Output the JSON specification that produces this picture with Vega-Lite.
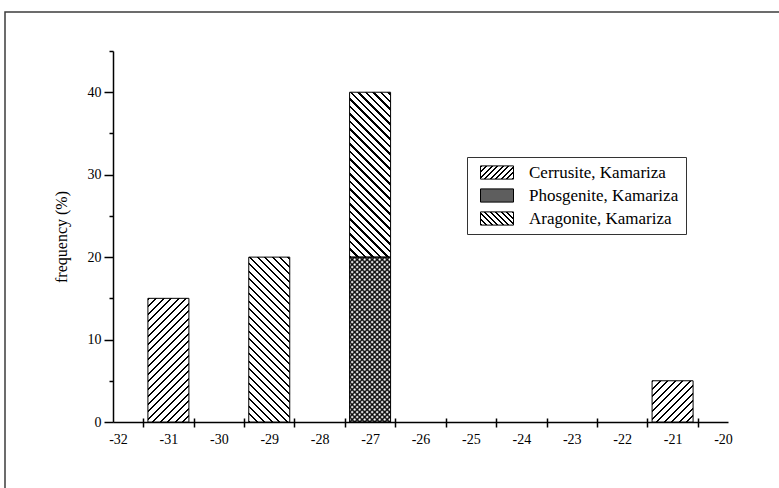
{
"$schema": "https://vega.github.io/schema/vega-lite/v6.json",
"autosize": "none",
"width": 778,
"height": 480,
"padding": {"left": 5, "top": 12, "right": -4, "bottom": -4},
"background": "#ffffff",
"config": {"font": "Liberation Serif", "view": {"stroke": "#3c3c3c", "strokeWidth": 1.5}, "axis": {"grid": false}},
"data": {"values": [
{"bin": -31, "mineral": "Cerrusite, Kamariza", "freq": 15},
{"bin": -29, "mineral": "Aragonite, Kamariza", "freq": 20},
{"bin": -27, "mineral": "Phosgenite, Kamariza", "freq": 20},
{"bin": -27, "mineral": "Aragonite, Kamariza", "freq": 20},
{"bin": -21, "mineral": "Cerrusite, Kamariza", "freq": 5}
]},
"transform": [{"stack": "freq", "groupby": ["bin"], "sort": [{"field": "mineral", "order": "descending"}], "as": ["f0", "f1"]}],
"resolve": {"axis": {"x": "independent", "y": "independent"}},
"layer": [
{
"transform": [{"filter": "datum.bin === -31"}],
"mark": {"type": "bar", "size": 41, "stroke": "#000", "strokeWidth": 1, "fill": {"gradient": "linear", "x1": 0, "y1": 0, "x2": 0.72459, "y2": 2.18556, "stops": [
{"offset":0,"color":"#000"},{"offset":0.007,"color":"#000"},{"offset":0.007,"color":"#fff"},{"offset":0.025,"color":"#fff"},
{"offset":0.025,"color":"#000"},{"offset":0.032,"color":"#000"},{"offset":0.032,"color":"#fff"},{"offset":0.05,"color":"#fff"},
{"offset":0.05,"color":"#000"},{"offset":0.057,"color":"#000"},{"offset":0.057,"color":"#fff"},{"offset":0.075,"color":"#fff"},
{"offset":0.075,"color":"#000"},{"offset":0.082,"color":"#000"},{"offset":0.082,"color":"#fff"},{"offset":0.1,"color":"#fff"},
{"offset":0.1,"color":"#000"},{"offset":0.107,"color":"#000"},{"offset":0.107,"color":"#fff"},{"offset":0.125,"color":"#fff"},
{"offset":0.125,"color":"#000"},{"offset":0.132,"color":"#000"},{"offset":0.132,"color":"#fff"},{"offset":0.15,"color":"#fff"},
{"offset":0.15,"color":"#000"},{"offset":0.157,"color":"#000"},{"offset":0.157,"color":"#fff"},{"offset":0.175,"color":"#fff"},
{"offset":0.175,"color":"#000"},{"offset":0.182,"color":"#000"},{"offset":0.182,"color":"#fff"},{"offset":0.2,"color":"#fff"},
{"offset":0.2,"color":"#000"},{"offset":0.207,"color":"#000"},{"offset":0.207,"color":"#fff"},{"offset":0.225,"color":"#fff"},
{"offset":0.225,"color":"#000"},{"offset":0.232,"color":"#000"},{"offset":0.232,"color":"#fff"},{"offset":0.25,"color":"#fff"},
{"offset":0.25,"color":"#000"},{"offset":0.257,"color":"#000"},{"offset":0.257,"color":"#fff"},{"offset":0.275,"color":"#fff"},
{"offset":0.275,"color":"#000"},{"offset":0.282,"color":"#000"},{"offset":0.282,"color":"#fff"},{"offset":0.3,"color":"#fff"},
{"offset":0.3,"color":"#000"},{"offset":0.307,"color":"#000"},{"offset":0.307,"color":"#fff"},{"offset":0.325,"color":"#fff"},
{"offset":0.325,"color":"#000"},{"offset":0.332,"color":"#000"},{"offset":0.332,"color":"#fff"},{"offset":0.35,"color":"#fff"},
{"offset":0.35,"color":"#000"},{"offset":0.357,"color":"#000"},{"offset":0.357,"color":"#fff"},{"offset":0.375,"color":"#fff"},
{"offset":0.375,"color":"#000"},{"offset":0.382,"color":"#000"},{"offset":0.382,"color":"#fff"},{"offset":0.4,"color":"#fff"},
{"offset":0.4,"color":"#000"},{"offset":0.407,"color":"#000"},{"offset":0.407,"color":"#fff"},{"offset":0.425,"color":"#fff"},
{"offset":0.425,"color":"#000"},{"offset":0.432,"color":"#000"},{"offset":0.432,"color":"#fff"},{"offset":0.45,"color":"#fff"},
{"offset":0.45,"color":"#000"},{"offset":0.457,"color":"#000"},{"offset":0.457,"color":"#fff"},{"offset":0.475,"color":"#fff"},
{"offset":0.475,"color":"#000"},{"offset":0.482,"color":"#000"},{"offset":0.482,"color":"#fff"},{"offset":0.5,"color":"#fff"},
{"offset":0.5,"color":"#000"},{"offset":0.507,"color":"#000"},{"offset":0.507,"color":"#fff"},{"offset":0.525,"color":"#fff"},
{"offset":0.525,"color":"#000"},{"offset":0.532,"color":"#000"},{"offset":0.532,"color":"#fff"},{"offset":0.55,"color":"#fff"}
]}},
"encoding": {
"x": {"field": "bin", "type": "quantitative", "scale": {"domain": [-32, -20], "range": [108, 723], "nice": false, "zero": false},
"axis": {"orient": "bottom", "offset": -70, "values": [-32,-31,-30,-29,-28,-27,-26,-25,-24,-23,-22,-21,-20], "labelExpr": "'' + datum.value", "ticks": false, "tickSize": 0, "labelPadding": 10, "domain": true, "domainColor": "#000", "domainWidth": 1.5, "labelFontSize": 14, "labelColor": "#000", "title": null, "grid": false}},
"y": {"field": "f1", "type": "quantitative", "scale": {"domain": [0, 45], "range": [410, 39], "nice": false, "zero": false},
"axis": {"orient": "left", "offset": -108, "values": [0,10,20,30,40], "tickSize": 9, "tickWidth": 1.5, "tickColor": "#000", "domain": true, "domainColor": "#000", "domainWidth": 1.5, "labelPadding": 3, "labelFontSize": 14, "labelColor": "#000", "title": "frequency (%)", "titleFontSize": 16, "titleFontWeight": "normal", "titleColor": "#000", "titlePadding": 18, "grid": false}},
"y2": {"field": "f0"}
}
},
{
"transform": [{"filter": "datum.bin === -21"}],
"mark": {"type": "bar", "size": 41, "stroke": "#000", "strokeWidth": 1, "fill": {"gradient": "linear", "x1": 0, "y1": 0, "x2": 3.639, "y2": 3.6585, "stops": [
{"offset":0,"color":"#000"},{"offset":0.007,"color":"#000"},{"offset":0.007,"color":"#fff"},{"offset":0.025,"color":"#fff"},
{"offset":0.025,"color":"#000"},{"offset":0.032,"color":"#000"},{"offset":0.032,"color":"#fff"},{"offset":0.05,"color":"#fff"},
{"offset":0.05,"color":"#000"},{"offset":0.057,"color":"#000"},{"offset":0.057,"color":"#fff"},{"offset":0.075,"color":"#fff"},
{"offset":0.075,"color":"#000"},{"offset":0.082,"color":"#000"},{"offset":0.082,"color":"#fff"},{"offset":0.1,"color":"#fff"},
{"offset":0.1,"color":"#000"},{"offset":0.107,"color":"#000"},{"offset":0.107,"color":"#fff"},{"offset":0.125,"color":"#fff"},
{"offset":0.125,"color":"#000"},{"offset":0.132,"color":"#000"},{"offset":0.132,"color":"#fff"},{"offset":0.15,"color":"#fff"},
{"offset":0.15,"color":"#000"},{"offset":0.157,"color":"#000"},{"offset":0.157,"color":"#fff"},{"offset":0.175,"color":"#fff"},
{"offset":0.175,"color":"#000"},{"offset":0.182,"color":"#000"},{"offset":0.182,"color":"#fff"},{"offset":0.2,"color":"#fff"},
{"offset":0.2,"color":"#000"},{"offset":0.207,"color":"#000"},{"offset":0.207,"color":"#fff"},{"offset":0.225,"color":"#fff"},
{"offset":0.225,"color":"#000"},{"offset":0.232,"color":"#000"},{"offset":0.232,"color":"#fff"},{"offset":0.25,"color":"#fff"},
{"offset":0.25,"color":"#000"},{"offset":0.257,"color":"#000"},{"offset":0.257,"color":"#fff"},{"offset":0.275,"color":"#fff"}
]}},
"encoding": {
"x": {"field": "bin", "type": "quantitative", "scale": {"domain": [-32, -20], "range": [108, 723], "nice": false, "zero": false},
"axis": {"orient": "bottom", "offset": -70, "values": [-31.5,-30.5,-29.5,-28.5,-27.5,-26.5,-25.5,-24.5,-23.5,-22.5,-21.5,-20.5], "labels": false, "domain": false, "ticks": true, "tickSize": 5, "tickWidth": 1.5, "tickColor": "#000", "title": null, "grid": false}},
"y": {"field": "f1", "type": "quantitative", "scale": {"domain": [0, 45], "range": [410, 39], "nice": false, "zero": false},
"axis": {"orient": "left", "offset": -108, "values": [5,15,25,35,45], "labels": false, "domain": false, "tickSize": 4, "tickWidth": 1.5, "tickColor": "#000", "title": null, "grid": false}},
"y2": {"field": "f0"}
}
},
{
"transform": [{"filter": "datum.mineral === 'Aragonite, Kamariza'"}],
"mark": {"type": "bar", "size": 41, "stroke": "#000", "strokeWidth": 1, "fill": {"gradient": "linear", "x1": 0, "y1": 1, "x2": 0.42606, "y2": -0.71346, "stops": [
{"offset":0,"color":"#000"},{"offset":0.007,"color":"#000"},{"offset":0.007,"color":"#fff"},{"offset":0.025,"color":"#fff"},
{"offset":0.025,"color":"#000"},{"offset":0.032,"color":"#000"},{"offset":0.032,"color":"#fff"},{"offset":0.05,"color":"#fff"},
{"offset":0.05,"color":"#000"},{"offset":0.057,"color":"#000"},{"offset":0.057,"color":"#fff"},{"offset":0.075,"color":"#fff"},
{"offset":0.075,"color":"#000"},{"offset":0.082,"color":"#000"},{"offset":0.082,"color":"#fff"},{"offset":0.1,"color":"#fff"},
{"offset":0.1,"color":"#000"},{"offset":0.107,"color":"#000"},{"offset":0.107,"color":"#fff"},{"offset":0.125,"color":"#fff"},
{"offset":0.125,"color":"#000"},{"offset":0.132,"color":"#000"},{"offset":0.132,"color":"#fff"},{"offset":0.15,"color":"#fff"},
{"offset":0.15,"color":"#000"},{"offset":0.157,"color":"#000"},{"offset":0.157,"color":"#fff"},{"offset":0.175,"color":"#fff"},
{"offset":0.175,"color":"#000"},{"offset":0.182,"color":"#000"},{"offset":0.182,"color":"#fff"},{"offset":0.2,"color":"#fff"},
{"offset":0.2,"color":"#000"},{"offset":0.207,"color":"#000"},{"offset":0.207,"color":"#fff"},{"offset":0.225,"color":"#fff"},
{"offset":0.225,"color":"#000"},{"offset":0.232,"color":"#000"},{"offset":0.232,"color":"#fff"},{"offset":0.25,"color":"#fff"},
{"offset":0.25,"color":"#000"},{"offset":0.257,"color":"#000"},{"offset":0.257,"color":"#fff"},{"offset":0.275,"color":"#fff"},
{"offset":0.275,"color":"#000"},{"offset":0.282,"color":"#000"},{"offset":0.282,"color":"#fff"},{"offset":0.3,"color":"#fff"},
{"offset":0.3,"color":"#000"},{"offset":0.307,"color":"#000"},{"offset":0.307,"color":"#fff"},{"offset":0.325,"color":"#fff"},
{"offset":0.325,"color":"#000"},{"offset":0.332,"color":"#000"},{"offset":0.332,"color":"#fff"},{"offset":0.35,"color":"#fff"},
{"offset":0.35,"color":"#000"},{"offset":0.357,"color":"#000"},{"offset":0.357,"color":"#fff"},{"offset":0.375,"color":"#fff"},
{"offset":0.375,"color":"#000"},{"offset":0.382,"color":"#000"},{"offset":0.382,"color":"#fff"},{"offset":0.4,"color":"#fff"},
{"offset":0.4,"color":"#000"},{"offset":0.407,"color":"#000"},{"offset":0.407,"color":"#fff"},{"offset":0.425,"color":"#fff"},
{"offset":0.425,"color":"#000"},{"offset":0.432,"color":"#000"},{"offset":0.432,"color":"#fff"},{"offset":0.45,"color":"#fff"},
{"offset":0.45,"color":"#000"},{"offset":0.457,"color":"#000"},{"offset":0.457,"color":"#fff"},{"offset":0.475,"color":"#fff"},
{"offset":0.475,"color":"#000"},{"offset":0.482,"color":"#000"},{"offset":0.482,"color":"#fff"},{"offset":0.5,"color":"#fff"},
{"offset":0.5,"color":"#000"},{"offset":0.507,"color":"#000"},{"offset":0.507,"color":"#fff"},{"offset":0.525,"color":"#fff"},
{"offset":0.525,"color":"#000"},{"offset":0.532,"color":"#000"},{"offset":0.532,"color":"#fff"},{"offset":0.55,"color":"#fff"},
{"offset":0.55,"color":"#000"},{"offset":0.557,"color":"#000"},{"offset":0.557,"color":"#fff"},{"offset":0.575,"color":"#fff"},
{"offset":0.575,"color":"#000"},{"offset":0.582,"color":"#000"},{"offset":0.582,"color":"#fff"},{"offset":0.6,"color":"#fff"},
{"offset":0.6,"color":"#000"},{"offset":0.607,"color":"#000"},{"offset":0.607,"color":"#fff"},{"offset":0.625,"color":"#fff"},
{"offset":0.625,"color":"#000"},{"offset":0.632,"color":"#000"},{"offset":0.632,"color":"#fff"},{"offset":0.65,"color":"#fff"},
{"offset":0.65,"color":"#000"},{"offset":0.657,"color":"#000"},{"offset":0.657,"color":"#fff"},{"offset":0.675,"color":"#fff"},
{"offset":0.675,"color":"#000"},{"offset":0.682,"color":"#000"},{"offset":0.682,"color":"#fff"},{"offset":0.7,"color":"#fff"}
]}},
"encoding": {
"x": {"field": "bin", "type": "quantitative", "scale": {"domain": [-32, -20], "range": [108, 723], "nice": false, "zero": false},
"axis": {"orient": "top", "offset": -410, "values": [-31.5,-30.5,-29.5,-28.5,-27.5,-26.5,-25.5,-24.5,-23.5,-22.5,-21.5,-20.5], "labels": false, "domain": false, "ticks": true, "tickSize": 4, "tickWidth": 1.5, "tickColor": "#000", "title": null, "grid": false}},
"y": {"field": "f1", "type": "quantitative", "scale": {"domain": [0, 45], "range": [410, 39], "nice": false, "zero": false}, "axis": null},
"y2": {"field": "f0"}
}
},
{
"transform": [{"filter": "datum.mineral === 'Phosgenite, Kamariza'"}],
"mark": {"type": "bar", "size": 41, "strokeWidth": 0, "fill": {"gradient": "linear", "x1": 0, "y1": 0, "x2": 0.35504, "y2": 1.42788, "stops": [
{"offset":0,"color":"#000"},{"offset":0.008,"color":"transparent"},{"offset":0.012,"color":"transparent"},
{"offset":0.02,"color":"#000"},{"offset":0.028,"color":"transparent"},{"offset":0.032,"color":"transparent"},
{"offset":0.04,"color":"#000"},{"offset":0.048,"color":"transparent"},{"offset":0.052,"color":"transparent"},
{"offset":0.06,"color":"#000"},{"offset":0.068,"color":"transparent"},{"offset":0.072,"color":"transparent"},
{"offset":0.08,"color":"#000"},{"offset":0.088,"color":"transparent"},{"offset":0.092,"color":"transparent"},
{"offset":0.1,"color":"#000"},{"offset":0.108,"color":"transparent"},{"offset":0.112,"color":"transparent"},
{"offset":0.12,"color":"#000"},{"offset":0.128,"color":"transparent"},{"offset":0.132,"color":"transparent"},
{"offset":0.14,"color":"#000"},{"offset":0.148,"color":"transparent"},{"offset":0.152,"color":"transparent"},
{"offset":0.16,"color":"#000"},{"offset":0.168,"color":"transparent"},{"offset":0.172,"color":"transparent"},
{"offset":0.18,"color":"#000"},{"offset":0.188,"color":"transparent"},{"offset":0.192,"color":"transparent"},
{"offset":0.2,"color":"#000"},{"offset":0.208,"color":"transparent"},{"offset":0.212,"color":"transparent"},
{"offset":0.22,"color":"#000"},{"offset":0.228,"color":"transparent"},{"offset":0.232,"color":"transparent"},
{"offset":0.24,"color":"#000"},{"offset":0.248,"color":"transparent"},{"offset":0.252,"color":"transparent"},
{"offset":0.26,"color":"#000"},{"offset":0.268,"color":"transparent"},{"offset":0.272,"color":"transparent"},
{"offset":0.28,"color":"#000"},{"offset":0.288,"color":"transparent"},{"offset":0.292,"color":"transparent"},
{"offset":0.3,"color":"#000"},{"offset":0.308,"color":"transparent"},{"offset":0.312,"color":"transparent"},
{"offset":0.32,"color":"#000"},{"offset":0.328,"color":"transparent"},{"offset":0.332,"color":"transparent"},
{"offset":0.34,"color":"#000"},{"offset":0.348,"color":"transparent"},{"offset":0.352,"color":"transparent"},
{"offset":0.36,"color":"#000"},{"offset":0.368,"color":"transparent"},{"offset":0.372,"color":"transparent"},
{"offset":0.38,"color":"#000"},{"offset":0.388,"color":"transparent"},{"offset":0.392,"color":"transparent"},
{"offset":0.4,"color":"#000"},{"offset":0.408,"color":"transparent"},{"offset":0.412,"color":"transparent"},
{"offset":0.42,"color":"#000"},{"offset":0.428,"color":"transparent"},{"offset":0.432,"color":"transparent"},
{"offset":0.44,"color":"#000"},{"offset":0.448,"color":"transparent"},{"offset":0.452,"color":"transparent"},
{"offset":0.46,"color":"#000"},{"offset":0.468,"color":"transparent"},{"offset":0.472,"color":"transparent"},
{"offset":0.48,"color":"#000"},{"offset":0.488,"color":"transparent"},{"offset":0.492,"color":"transparent"},
{"offset":0.5,"color":"#000"},{"offset":0.508,"color":"transparent"},{"offset":0.512,"color":"transparent"},
{"offset":0.52,"color":"#000"},{"offset":0.528,"color":"transparent"},{"offset":0.532,"color":"transparent"},
{"offset":0.54,"color":"#000"},{"offset":0.548,"color":"transparent"},{"offset":0.552,"color":"transparent"},
{"offset":0.56,"color":"#000"},{"offset":0.568,"color":"transparent"},{"offset":0.572,"color":"transparent"},
{"offset":0.58,"color":"#000"},{"offset":0.588,"color":"transparent"},{"offset":0.592,"color":"transparent"},
{"offset":0.6,"color":"#000"},{"offset":0.608,"color":"transparent"},{"offset":0.612,"color":"transparent"},
{"offset":0.62,"color":"#000"},{"offset":0.628,"color":"transparent"},{"offset":0.632,"color":"transparent"},
{"offset":0.64,"color":"#000"},{"offset":0.648,"color":"transparent"},{"offset":0.652,"color":"transparent"},
{"offset":0.66,"color":"#000"},{"offset":0.668,"color":"transparent"},{"offset":0.672,"color":"transparent"},
{"offset":0.68,"color":"#000"},{"offset":0.688,"color":"transparent"},{"offset":0.692,"color":"transparent"},
{"offset":0.7,"color":"#000"},{"offset":0.708,"color":"transparent"},{"offset":0.712,"color":"transparent"},
{"offset":0.72,"color":"#000"},{"offset":0.728,"color":"transparent"},{"offset":0.732,"color":"transparent"},
{"offset":0.74,"color":"#000"},{"offset":0.748,"color":"transparent"},{"offset":0.752,"color":"transparent"},
{"offset":0.76,"color":"#000"},{"offset":0.768,"color":"transparent"},{"offset":0.772,"color":"transparent"},
{"offset":0.78,"color":"#000"},{"offset":0.788,"color":"transparent"},{"offset":0.792,"color":"transparent"},
{"offset":0.8,"color":"#000"},{"offset":0.808,"color":"transparent"},{"offset":0.812,"color":"transparent"},
{"offset":0.82,"color":"#000"},{"offset":0.828,"color":"transparent"},{"offset":0.832,"color":"transparent"}
]}},
"encoding": {
"x": {"field": "bin", "type": "quantitative", "scale": {"domain": [-32, -20], "range": [108, 723], "nice": false, "zero": false}, "axis": null},
"y": {"field": "f1", "type": "quantitative", "scale": {"domain": [0, 45], "range": [410, 39], "nice": false, "zero": false}, "axis": null},
"y2": {"field": "f0"}
}
},
{
"transform": [{"filter": "datum.mineral === 'Phosgenite, Kamariza'"}],
"mark": {"type": "bar", "size": 41, "stroke": "#000", "strokeWidth": 1, "fill": {"gradient": "linear", "x1": 0, "y1": 1, "x2": 0.35504, "y2": -0.42788, "stops": [
{"offset":0,"color":"#000"},{"offset":0.008,"color":"transparent"},{"offset":0.012,"color":"transparent"},
{"offset":0.02,"color":"#000"},{"offset":0.028,"color":"transparent"},{"offset":0.032,"color":"transparent"},
{"offset":0.04,"color":"#000"},{"offset":0.048,"color":"transparent"},{"offset":0.052,"color":"transparent"},
{"offset":0.06,"color":"#000"},{"offset":0.068,"color":"transparent"},{"offset":0.072,"color":"transparent"},
{"offset":0.08,"color":"#000"},{"offset":0.088,"color":"transparent"},{"offset":0.092,"color":"transparent"},
{"offset":0.1,"color":"#000"},{"offset":0.108,"color":"transparent"},{"offset":0.112,"color":"transparent"},
{"offset":0.12,"color":"#000"},{"offset":0.128,"color":"transparent"},{"offset":0.132,"color":"transparent"},
{"offset":0.14,"color":"#000"},{"offset":0.148,"color":"transparent"},{"offset":0.152,"color":"transparent"},
{"offset":0.16,"color":"#000"},{"offset":0.168,"color":"transparent"},{"offset":0.172,"color":"transparent"},
{"offset":0.18,"color":"#000"},{"offset":0.188,"color":"transparent"},{"offset":0.192,"color":"transparent"},
{"offset":0.2,"color":"#000"},{"offset":0.208,"color":"transparent"},{"offset":0.212,"color":"transparent"},
{"offset":0.22,"color":"#000"},{"offset":0.228,"color":"transparent"},{"offset":0.232,"color":"transparent"},
{"offset":0.24,"color":"#000"},{"offset":0.248,"color":"transparent"},{"offset":0.252,"color":"transparent"},
{"offset":0.26,"color":"#000"},{"offset":0.268,"color":"transparent"},{"offset":0.272,"color":"transparent"},
{"offset":0.28,"color":"#000"},{"offset":0.288,"color":"transparent"},{"offset":0.292,"color":"transparent"},
{"offset":0.3,"color":"#000"},{"offset":0.308,"color":"transparent"},{"offset":0.312,"color":"transparent"},
{"offset":0.32,"color":"#000"},{"offset":0.328,"color":"transparent"},{"offset":0.332,"color":"transparent"},
{"offset":0.34,"color":"#000"},{"offset":0.348,"color":"transparent"},{"offset":0.352,"color":"transparent"},
{"offset":0.36,"color":"#000"},{"offset":0.368,"color":"transparent"},{"offset":0.372,"color":"transparent"},
{"offset":0.38,"color":"#000"},{"offset":0.388,"color":"transparent"},{"offset":0.392,"color":"transparent"},
{"offset":0.4,"color":"#000"},{"offset":0.408,"color":"transparent"},{"offset":0.412,"color":"transparent"},
{"offset":0.42,"color":"#000"},{"offset":0.428,"color":"transparent"},{"offset":0.432,"color":"transparent"},
{"offset":0.44,"color":"#000"},{"offset":0.448,"color":"transparent"},{"offset":0.452,"color":"transparent"},
{"offset":0.46,"color":"#000"},{"offset":0.468,"color":"transparent"},{"offset":0.472,"color":"transparent"},
{"offset":0.48,"color":"#000"},{"offset":0.488,"color":"transparent"},{"offset":0.492,"color":"transparent"},
{"offset":0.5,"color":"#000"},{"offset":0.508,"color":"transparent"},{"offset":0.512,"color":"transparent"},
{"offset":0.52,"color":"#000"},{"offset":0.528,"color":"transparent"},{"offset":0.532,"color":"transparent"},
{"offset":0.54,"color":"#000"},{"offset":0.548,"color":"transparent"},{"offset":0.552,"color":"transparent"},
{"offset":0.56,"color":"#000"},{"offset":0.568,"color":"transparent"},{"offset":0.572,"color":"transparent"},
{"offset":0.58,"color":"#000"},{"offset":0.588,"color":"transparent"},{"offset":0.592,"color":"transparent"},
{"offset":0.6,"color":"#000"},{"offset":0.608,"color":"transparent"},{"offset":0.612,"color":"transparent"},
{"offset":0.62,"color":"#000"},{"offset":0.628,"color":"transparent"},{"offset":0.632,"color":"transparent"},
{"offset":0.64,"color":"#000"},{"offset":0.648,"color":"transparent"},{"offset":0.652,"color":"transparent"},
{"offset":0.66,"color":"#000"},{"offset":0.668,"color":"transparent"},{"offset":0.672,"color":"transparent"},
{"offset":0.68,"color":"#000"},{"offset":0.688,"color":"transparent"},{"offset":0.692,"color":"transparent"},
{"offset":0.7,"color":"#000"},{"offset":0.708,"color":"transparent"},{"offset":0.712,"color":"transparent"},
{"offset":0.72,"color":"#000"},{"offset":0.728,"color":"transparent"},{"offset":0.732,"color":"transparent"},
{"offset":0.74,"color":"#000"},{"offset":0.748,"color":"transparent"},{"offset":0.752,"color":"transparent"},
{"offset":0.76,"color":"#000"},{"offset":0.768,"color":"transparent"},{"offset":0.772,"color":"transparent"},
{"offset":0.78,"color":"#000"},{"offset":0.788,"color":"transparent"},{"offset":0.792,"color":"transparent"},
{"offset":0.8,"color":"#000"},{"offset":0.808,"color":"transparent"},{"offset":0.812,"color":"transparent"},
{"offset":0.82,"color":"#000"},{"offset":0.828,"color":"transparent"},{"offset":0.832,"color":"transparent"}
]}},
"encoding": {
"x": {"field": "bin", "type": "quantitative", "scale": {"domain": [-32, -20], "range": [108, 723], "nice": false, "zero": false}, "axis": null},
"y": {"field": "f1", "type": "quantitative", "scale": {"domain": [0, 45], "range": [410, 39], "nice": false, "zero": false}, "axis": null},
"y2": {"field": "f0"}
}
},
{
"mark": {"type": "bar", "size": 41, "opacity": 0},
"encoding": {
"x": {"field": "bin", "type": "quantitative", "scale": {"domain": [-32, -20], "range": [108, 723], "nice": false, "zero": false}, "axis": null},
"y": {"field": "f1", "type": "quantitative", "scale": {"domain": [0, 45], "range": [410, 39], "nice": false, "zero": false}, "axis": null},
"y2": {"field": "f0"},
"fill": {"field": "mineral", "type": "nominal",
"scale": {"domain": ["Cerrusite, Kamariza", "Phosgenite, Kamariza", "Aragonite, Kamariza"], "range": [
{"expr": "{gradient:'linear',x1:0,y1:0,x2:1.4368,y2:0.5747,stops:[{offset:0,color:'#000'},{offset:0.035,color:'#000'},{offset:0.035,color:'#fff'},{offset:0.1,color:'#fff'},{offset:0.1,color:'#000'},{offset:0.135,color:'#000'},{offset:0.135,color:'#fff'},{offset:0.2,color:'#fff'},{offset:0.2,color:'#000'},{offset:0.235,color:'#000'},{offset:0.235,color:'#fff'},{offset:0.3,color:'#fff'},{offset:0.3,color:'#000'},{offset:0.335,color:'#000'},{offset:0.335,color:'#fff'},{offset:0.4,color:'#fff'},{offset:0.4,color:'#000'},{offset:0.435,color:'#000'},{offset:0.435,color:'#fff'},{offset:0.5,color:'#fff'},{offset:0.5,color:'#000'},{offset:0.535,color:'#000'},{offset:0.535,color:'#fff'},{offset:0.6,color:'#fff'},{offset:0.6,color:'#000'},{offset:0.635,color:'#000'},{offset:0.635,color:'#fff'},{offset:0.7,color:'#fff'},{offset:0.7,color:'#000'},{offset:0.735,color:'#000'},{offset:0.735,color:'#fff'},{offset:0.8,color:'#fff'},{offset:0.8,color:'#000'},{offset:0.835,color:'#000'},{offset:0.835,color:'#fff'},{offset:0.9,color:'#fff'}]}"},
"#5e5e5e",
{"expr": "{gradient:'linear',x1:0,y1:1,x2:1.4368,y2:0.4253,stops:[{offset:0,color:'#000'},{offset:0.035,color:'#000'},{offset:0.035,color:'#fff'},{offset:0.1,color:'#fff'},{offset:0.1,color:'#000'},{offset:0.135,color:'#000'},{offset:0.135,color:'#fff'},{offset:0.2,color:'#fff'},{offset:0.2,color:'#000'},{offset:0.235,color:'#000'},{offset:0.235,color:'#fff'},{offset:0.3,color:'#fff'},{offset:0.3,color:'#000'},{offset:0.335,color:'#000'},{offset:0.335,color:'#fff'},{offset:0.4,color:'#fff'},{offset:0.4,color:'#000'},{offset:0.435,color:'#000'},{offset:0.435,color:'#fff'},{offset:0.5,color:'#fff'},{offset:0.5,color:'#000'},{offset:0.535,color:'#000'},{offset:0.535,color:'#fff'},{offset:0.6,color:'#fff'},{offset:0.6,color:'#000'},{offset:0.635,color:'#000'},{offset:0.635,color:'#fff'},{offset:0.7,color:'#fff'},{offset:0.7,color:'#000'},{offset:0.735,color:'#000'},{offset:0.735,color:'#fff'},{offset:0.8,color:'#fff'},{offset:0.8,color:'#000'},{offset:0.835,color:'#000'},{offset:0.835,color:'#fff'},{offset:0.9,color:'#fff'}]}"}
]},
"legend": {"title": null, "orient": "none", "legendX": 462, "legendY": 145, "padding": 7, "strokeColor": "#333333", "fillColor": "#ffffff",
"symbolType": "M-1,-0.4H1V0.4H-1Z", "symbolSize": 1089, "symbolOffset": 6, "labelOffset": 15, "clipHeight": 17, "rowPadding": 5, "symbolOpacity": 1,
"symbolStrokeColor": "#000", "symbolStrokeWidth": 1,
"labelFont": "Liberation Serif", "labelFontSize": 17, "labelColor": "#000", "labelLimit": 300}
}
}
}
]
}
